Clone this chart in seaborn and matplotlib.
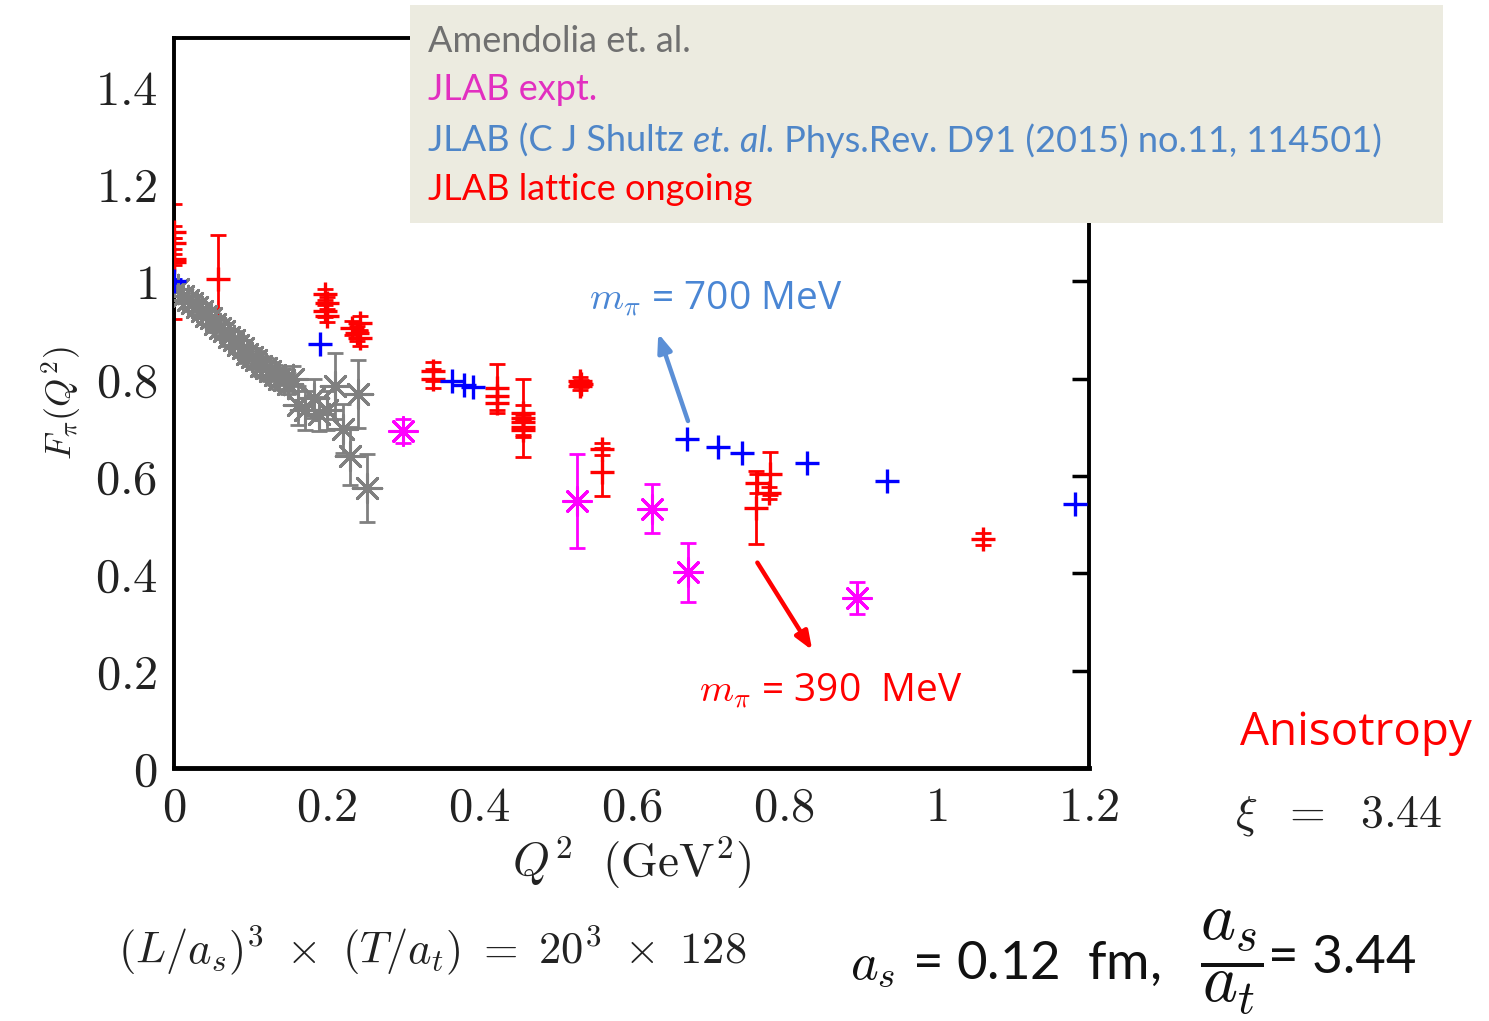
import numpy as np
import matplotlib
matplotlib.use("Agg")
import matplotlib.pyplot as plt
import seaborn as sns
import pandas as pd

# ---------------- data ----------------
amend_x = [0.005, 0.012, 0.018, 0.024, 0.030, 0.036, 0.042, 0.048, 0.054, 0.060,
           0.066, 0.072, 0.078, 0.084, 0.090, 0.096, 0.102, 0.108, 0.114, 0.120,
           0.126, 0.132, 0.138, 0.144, 0.150, 0.156, 0.162, 0.172, 0.183, 0.190,
           0.200, 0.211, 0.222, 0.231, 0.241, 0.253]
amend_y = [0.985, 0.970, 0.962, 0.955, 0.948, 0.940, 0.928, 0.925, 0.912, 0.905,
           0.898, 0.885, 0.880, 0.870, 0.862, 0.850, 0.845, 0.838, 0.826, 0.822,
           0.815, 0.808, 0.800, 0.798, 0.790, 0.800, 0.745, 0.735, 0.760, 0.728,
           0.735, 0.785, 0.697, 0.641, 0.768, 0.576]
amend_e = [0.015, 0.015, 0.015, 0.015, 0.015, 0.015, 0.016, 0.016, 0.016, 0.016,
           0.017, 0.017, 0.017, 0.018, 0.018, 0.018, 0.019, 0.019, 0.02, 0.02,
           0.02, 0.021, 0.021, 0.022, 0.022, 0.025, 0.04, 0.04, 0.04, 0.035,
           0.04, 0.067, 0.05, 0.06, 0.07, 0.07]

expt_x = [0.300, 0.529, 0.627, 0.674, 0.896]
expt_y = [0.693, 0.549, 0.533, 0.402, 0.350]
expt_e = [0.025, 0.097, 0.051, 0.060, 0.033]

shultz_x = [0.0, 0.191, 0.365, 0.380, 0.392, 0.673, 0.713, 0.745, 0.830, 0.935, 1.182]
shultz_y = [1.0, 0.871, 0.795, 0.787, 0.782, 0.676, 0.660, 0.648, 0.627, 0.590, 0.543]
shultz_e = [0.004, 0.0, 0.0, 0.0, 0.0, 0.0, 0.0, 0.0, 0.0, 0.0, 0.0]

latt_x = [0.0, 0.0, 0.0, 0.0, 0.058,
          0.198, 0.200, 0.198, 0.200,
          0.233, 0.244, 0.240, 0.244,
          0.340, 0.340,
          0.423, 0.423, 0.423,
          0.458, 0.458, 0.458, 0.458, 0.458,
          0.532, 0.532, 0.534,
          0.561, 0.561,
          0.765, 0.763, 0.781, 0.780,
          1.061]
latt_y = [1.102, 1.078, 1.045, 1.040, 1.004,
          0.973, 0.955, 0.939, 0.928,
          0.904, 0.914, 0.893, 0.883,
          0.815, 0.800,
          0.780, 0.765, 0.750,
          0.730, 0.720, 0.710, 0.700, 0.695,
          0.795, 0.785, 0.790,
          0.655, 0.608,
          0.585, 0.535, 0.605, 0.565,
          0.471]
latt_e = [0.012, 0.012, 0.012, 0.118, 0.092,
          0.012, 0.012, 0.012, 0.012,
          0.015, 0.015, 0.015, 0.015,
          0.020, 0.020,
          0.050, 0.015, 0.015,
          0.015, 0.080, 0.015, 0.015, 0.015,
          0.008, 0.008, 0.008,
          0.012, 0.050,
          0.020, 0.075, 0.045, 0.012,
          0.012]

x_ticks = [0, 0.2, 0.4, 0.6, 0.8, 1.0, 1.2]
x_labels = ["0", "0.2", "0.4", "0.6", "0.8", "1", "1.2"]
y_ticks = [0, 0.2, 0.4, 0.6, 0.8, 1.0, 1.2, 1.4]
y_labels = ["0", "0.2", "0.4", "0.6", "0.8", "1", "1.2", "1.4"]

legend_lines = ["Amendolia et. al.", "JLAB expt.", "JLAB (C J Shultz ", "JLAB lattice ongoing"]

# ---------------- style ----------------
sns.set_theme(style="white")
plt.rcParams["mathtext.fontset"] = "cm"
plt.rcParams["font.family"] = ["Lato", "DejaVu Sans"]

fig = plt.figure(figsize=(14.89, 10.21), dpi=100)
ax = fig.add_axes([0.1169, 0.2478, 0.6145, 0.715])

RED = "#ff0000"
BLUE = "#0000ff"
MAG = "#ff00ff"
GRAY = "#808080"
STAR = (8, 2, 0)

series = [
    (amend_x, amend_y, amend_e, GRAY, STAR, 420, 2.2),
    (expt_x, expt_y, expt_e, MAG, STAR, 400, 2.2),
    (latt_x, latt_y, latt_e, RED, "+", 300, 2.4),
    (shultz_x, shultz_y, shultz_e, BLUE, "+", 300, 2.4),
]
for xs, ys, es, col, mk, s, lw in series:
    ax.errorbar(xs, ys, yerr=es, fmt="none", ecolor=col, elinewidth=2.0,
                capsize=5.5, capthick=2.0, zorder=2)
    df = pd.DataFrame({"x": xs, "y": ys})
    sns.scatterplot(data=df, x="x", y="y", ax=ax, marker=mk, s=s, color=col,
                    linewidth=lw, zorder=3, legend=False)

ax.set_xlim(0, 1.2)
ax.set_ylim(0, 1.5)
ax.set_xticks(x_ticks)
ax.set_xticklabels(["$%s$" % t for t in x_labels])
ax.set_yticks(y_ticks)
ax.set_yticklabels(["$%s$" % t for t in y_labels])
ax.tick_params(axis="both", which="major", direction="in", length=12, width=2.5,
               labelsize=35, top=False, right=True, colors="black", pad=12)
ax.tick_params(axis="both", labelcolor="#222222")
for sp in ax.spines.values():
    sp.set_visible(True)
    sp.set_color("black")
    sp.set_linewidth(2.8)
ax.spines["bottom"].set_linewidth(3.5)
ax.set_xlabel(r"$Q^2\ \ (\mathrm{GeV}^2)$", fontsize=34, color="#222222", labelpad=4)
ax.set_ylabel(r"$F_\pi(Q^2)$", fontsize=26, color="#222222", labelpad=8)
ax.grid(False)

# arrows and mass labels
ax.annotate("", xy=(0.635, 0.893), xytext=(0.674, 0.713),
            arrowprops=dict(arrowstyle="-|>,head_length=0.9,head_width=0.35",
                            color="#5b8fd6", lw=3.2, shrinkA=0, shrinkB=0))
ax.annotate("", xy=(0.837, 0.242), xytext=(0.765, 0.422),
            arrowprops=dict(arrowstyle="-|>,head_length=0.9,head_width=0.35",
                            color=RED, lw=3.2, shrinkA=0, shrinkB=0))
ax.text(0.544, 0.965, r"$m_\pi$ = 700 MeV", fontsize=28, color="#4a86d4",
        family=["Open Sans", "DejaVu Sans"], va="center", ha="left")
ax.text(0.688, 0.160, r"$m_\pi$ = 390  MeV", fontsize=28, color=RED,
        family=["Open Sans", "DejaVu Sans"], va="center", ha="left")

# legend box
box = matplotlib.patches.Rectangle((410 / 1489, 1 - 223 / 1021), 1033 / 1489, 218 / 1021,
                                   transform=fig.transFigure, facecolor="#ecebe0",
                                   edgecolor="none", zorder=5)
fig.add_artist(box)
lx = 428 / 1489
lfs = 26
fig.text(lx, 1 - 42 / 1021, legend_lines[0], color="#707070", fontsize=lfs,
         va="center", zorder=6)
fig.text(lx, 1 - 90 / 1021, legend_lines[1], color="#e22fc0", fontsize=lfs,
         va="center", zorder=6)
fig.text(lx, 1 - 190 / 1021, legend_lines[3], color=RED, fontsize=lfs,
         va="center", zorder=6)
renderer = fig.canvas.get_renderer()
LB = "#4f86c8"
t1 = fig.text(lx, 1 - 141 / 1021, legend_lines[2], color=LB, fontsize=lfs,
              va="center", zorder=6)
bb = t1.get_window_extent(renderer)
t2 = fig.text(bb.x1 / fig.bbox.width, 1 - 141 / 1021, "et. al.", color=LB,
              fontsize=lfs, style="italic", va="center", zorder=6)
bb2 = t2.get_window_extent(renderer)
fig.text(bb2.x1 / fig.bbox.width, 1 - 141 / 1021,
         " Phys.Rev. D91 (2015) no.11, 114501)", color=LB, fontsize=lfs,
         va="center", zorder=6)

# side / bottom annotations
fig.text(1240 / 1489, 1 - 733 / 1021, "Anisotropy", color=RED, fontsize=33,
         family=["Open Sans", "DejaVu Sans"], va="center", ha="left")
fig.text(1235 / 1489, 1 - 815 / 1021, r"$\xi\ \ =\ \ 3.44$", color="#222222",
         fontsize=33, va="center", ha="left")
fig.text(118 / 1489, 1 - 950 / 1021,
         r"$(L/a_s)^3\ \times\ (T/a_t)\ =\ 20^3\ \times\ 128$",
         color="#222222", fontsize=32, va="center", ha="left")
fig.text(850 / 1489, 1 - 965 / 1021, r"$a_s$ = 0.12  fm,", color="#111111",
         fontsize=38, va="center", ha="left")
fig.text(1232 / 1489, 1 - 962 / 1021, r"$\dfrac{a_s}{a_t}$", color="#111111",
         fontsize=48, va="center", ha="center")
fig.text(1268 / 1489, 1 - 958 / 1021, "= 3.44", color="#111111",
         fontsize=38, va="center", ha="left")

fig.savefig("out.png", dpi=100)
